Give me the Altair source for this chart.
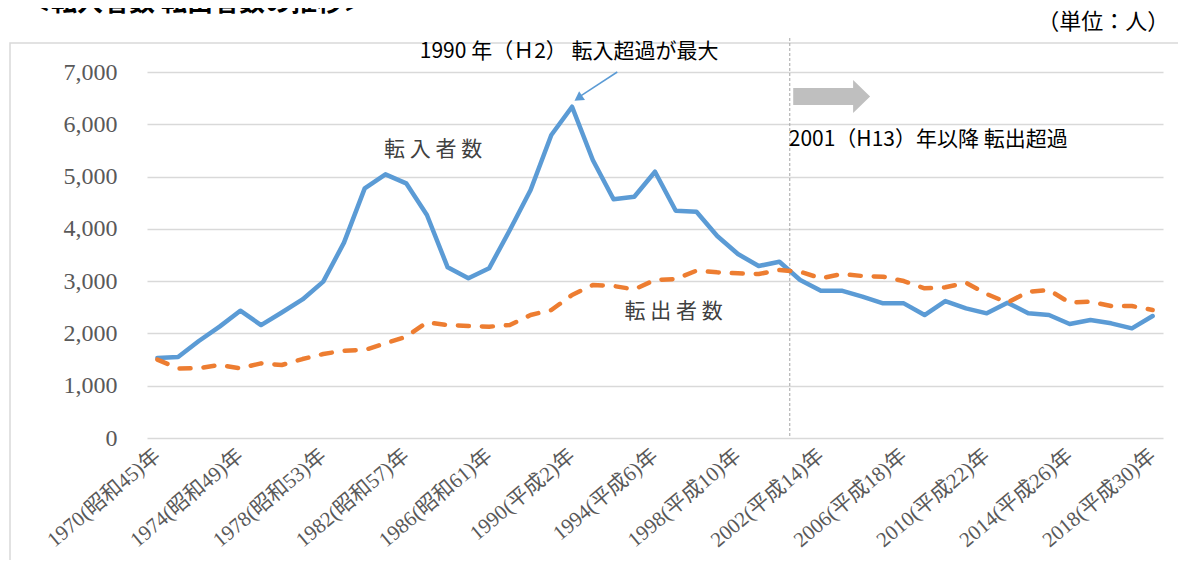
import altair as alt
import pandas as pd

years = [1970, 1971, 1972, 1973, 1974, 1975, 1976, 1977, 1978, 1979,
         1980, 1981, 1982, 1983, 1984, 1985, 1986, 1987, 1988, 1989,
         1990, 1991, 1992, 1993, 1994, 1995, 1996, 1997, 1998, 1999,
         2000, 2001, 2002, 2003, 2004, 2005, 2006, 2007, 2008, 2009,
         2010, 2011, 2012, 2013, 2014, 2015, 2016, 2017, 2018]
inflow = [1530, 1550, 1855, 2130, 2435, 2160, 2400, 2650, 2990, 3736,
          4775, 5043, 4871, 4265, 3264, 3054, 3245, 3978, 4743, 5795,
          6336, 5316, 4565, 4615, 5093, 4347, 4328, 3863, 3519, 3289,
          3372, 3022, 2817, 2817, 2703, 2575, 2575, 2352, 2620, 2480,
          2384, 2588, 2384, 2352, 2180, 2257, 2193, 2097, 2333]
outflow = [1500, 1330, 1335, 1396, 1333, 1428, 1396, 1510, 1606, 1670,
           1683, 1811, 1937, 2212, 2161, 2142, 2129, 2161, 2352, 2448,
           2735, 2926, 2907, 2843, 3022, 3041, 3200, 3168, 3149, 3136,
           3213, 3181, 3054, 3136, 3098, 3085, 3002, 2862, 2882, 2970,
           2754, 2588, 2798, 2830, 2588, 2607, 2524, 2524, 2448]
tick_years = [1970, 1974, 1978, 1982, 1986, 1990, 1994, 1998, 2002, 2006, 2010, 2014, 2018]
tick_labels = ["1970(昭和45)年", "1974(昭和49)年", "1978(昭和53)年", "1982(昭和57)年",
               "1986(昭和61)年", "1990(平成2)年", "1994(平成6)年", "1998(平成10)年",
               "2002(平成14)年", "2006(平成18)年", "2010(平成22)年", "2014(平成26)年",
               "2018(平成30)年"]
y_ticks = [0, 1000, 2000, 3000, 4000, 5000, 6000, 7000]

BLUE = "#5B9BD5"
ORANGE = "#ED7D31"
SERIF = "'Liberation Serif', 'DejaVu Serif', 'Noto Sans CJK JP', serif"
SANS = "'Noto Sans CJK JP', sans-serif"

df = pd.DataFrame({"year": years, "inflow": inflow, "outflow": outflow})

label_arr = "[" + ",".join("'" + s + "'" for s in tick_labels) + "]"
label_expr = label_arr + "[round((datum.value - 1970) / 4)]"

xscale = alt.Scale(domain=[1969.5, 2018.5], nice=False, zero=False)
yscale = alt.Scale(domain=[0, 7000], nice=False)

x_axis = alt.Axis(values=tick_years, labelExpr=label_expr, labelAngle=-40,
                  labelAlign="right", labelBaseline="middle", labelPadding=15,
                  labelFont=SERIF, labelFontSize=21, labelColor="#595959",
                  grid=False, ticks=False, domain=False, title=None,
                  labelOverlap=False, labelBound=False, labelFlush=False)
y_axis = alt.Axis(values=y_ticks, format=",.0f", labelFont=SERIF, labelFontSize=24,
                  labelColor="#595959", labelPadding=30, ticks=False, tickSize=0,
                  domain=False, grid=True, gridColor="#D9D9D9", gridWidth=1.5,
                  title=None)

base = alt.Chart(df)

# outer frame
frame = alt.Chart(pd.DataFrame({"a": [0]})).mark_rect(
    fill="transparent", stroke="#D9D9D9", strokeWidth=1.5
).encode(x=alt.value(-137), x2=alt.value(1060), y=alt.value(-29), y2=alt.value(540))

line_in = base.mark_line(color=BLUE, strokeWidth=4.5, strokeJoin="round", strokeCap="round").encode(
    x=alt.X("year:Q", scale=xscale, axis=x_axis),
    y=alt.Y("inflow:Q", scale=yscale, axis=y_axis),
)
line_out = base.mark_line(color=ORANGE, strokeWidth=4.5, strokeDash=[11, 13],
                          strokeJoin="round", strokeCap="round").encode(
    x=alt.X("year:Q", scale=xscale),
    y=alt.Y("outflow:Q", scale=yscale),
)

# vertical dashed divider at 2001 boundary
divider = alt.Chart(pd.DataFrame({"x": [2000.5], "y": [7650], "y2": [0]})).mark_rule(
    color="#A6A6A6", strokeWidth=1, strokeDash=[3, 2]
).encode(x=alt.X("x:Q", scale=xscale), y=alt.Y("y:Q", scale=yscale), y2="y2:Q")

# gray block arrow
arrow_path = "M-2.33,-0.52L1.3,-0.52L1.3,-1L2.33,0L1.3,1L1.3,0.52L-2.33,0.52Z"
gray_arrow = alt.Chart(pd.DataFrame({"x": [2002.52], "y": [6531]})).mark_point(
    shape=arrow_path, filled=True, size=1089, color="#BFBFBF", opacity=1
).encode(x=alt.X("x:Q", scale=xscale), y=alt.Y("y:Q", scale=yscale))

# blue annotation arrow
arrow_line = alt.Chart(pd.DataFrame({"x": [1992.18], "y": [7000], "x2": [1990.4], "y2": [6540]})).mark_rule(
    color=BLUE, strokeWidth=1.5
).encode(x=alt.X("x:Q", scale=xscale), y=alt.Y("y:Q", scale=yscale), x2="x2:Q", y2="y2:Q")
arrow_head = alt.Chart(pd.DataFrame({"x": [1990.3], "y": [6500]})).mark_point(
    shape="triangle-up", filled=True, size=110, angle=236, color=BLUE, opacity=1
).encode(x=alt.X("x:Q", scale=xscale), y=alt.Y("y:Q", scale=yscale))

def label(text, x, y, size, align="center", font=SANS, color="#262626"):
    return alt.Chart(pd.DataFrame({"x": [x], "y": [y], "t": [text]})).mark_text(
        font=font, fontSize=size, align=align, baseline="middle", color=color
    ).encode(x=alt.X("x:Q", scale=xscale), y=alt.Y("y:Q", scale=yscale), text="t:N")

t_peak = label("1990 年（Ｈ2） 転入超過が最大", 1989.86, 7382, 21, color="#000000")
t_in = label("転 入 者 数", 1983.3, 5508, 21, color="#404040")
t_out = label("転 出 者 数", 1994.9, 2410, 21, color="#404040")
t_after = label("2001（H13）年以降  転出超過", 2000.45, 5699, 21, align="left", color="#000000")
t_unit = label("（単位：人）", 2018.8, 7955, 22, align="right", color="#000000")

title_sliver = alt.Chart(pd.DataFrame({"t": ["＜転入者数 転出者数の推移＞"]})).mark_text(
    font=SANS, fontSize=26, fontWeight="bold", align="left", baseline="alphabetic", color="#000000"
).encode(x=alt.value(-122), y=alt.value(-61), text="t:N")

chart = alt.layer(
    frame, divider, line_in, line_out, gray_arrow, arrow_line, arrow_head,
    t_peak, t_in, t_out, t_after, t_unit, title_sliver
).properties(
    width=1016, height=366,
    autosize=alt.AutoSizeParams(type="none"),
    padding={"left": 139, "top": 64, "right": 15, "bottom": 122},
).configure_view(stroke=None)

chart.save("out.html", embed_options={"renderer": "svg", "actions": False})
